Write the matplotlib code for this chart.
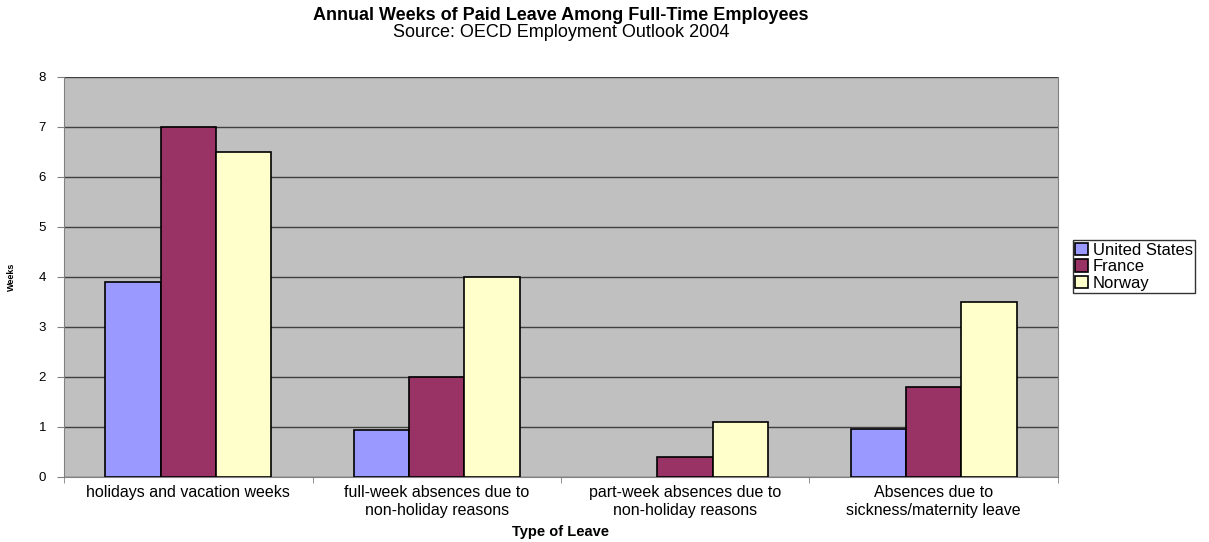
import matplotlib.pyplot as plt
import numpy as np

plt.rcParams['font.family'] = ['Liberation Sans', 'DejaVu Sans']

categorias = ['holidays and vacation weeks',
              'full-week absences due to\nnon-holiday reasons',
              'part-week absences due to\nnon-holiday reasons',
              'Absences due to\nsickness/maternity leave']
paises = ['United States', 'France', 'Norway']
semanas_usa = [3.9, 0.93, 0.0, 0.95]
semanas_francia = [7.0, 2.0, 0.4, 1.8]
semanas_noruega = [6.5, 4.0, 1.1, 3.5]
colores = ['#9999FF', '#993366', '#FFFFCC']

fig = plt.figure(figsize=(12.09, 5.42), dpi=100)
ax = fig.add_axes([0.053, 0.12, 0.822, 0.738])
ax.set_facecolor('#C0C0C0')

x = np.arange(len(categorias))
ancho = 0.223
series = [semanas_usa, semanas_francia, semanas_noruega]
for i, (valores, pais, color) in enumerate(zip(series, paises, colores)):
    # sin borde cuando la barra vale 0
    bordes = [1.2 if v > 0 else 0 for v in valores]
    ax.bar(x + (i - 1) * ancho, valores, ancho, color=color, edgecolor='black',
           linewidth=bordes, label=pais, zorder=3)

ax.set_xlim(-0.5, len(categorias) - 0.5)
ax.set_ylim(0, 8)
ax.set_yticks(range(0, 9))
ax.yaxis.grid(True, color='#404040', linewidth=1, zorder=1)

# ticks de categoria entre grupos
ax.set_xticks(x)
ax.set_xticklabels(categorias, fontsize=11.5, linespacing=1.2)
ax.set_xticks(np.arange(-0.5, len(categorias)), minor=True)
ax.tick_params(axis='x', which='major', length=0, pad=6)
ax.tick_params(axis='x', which='minor', length=4, color='#808080')
ax.tick_params(axis='y', labelsize=9.5, length=5, color='#808080', pad=8)

for lado in ['left', 'bottom', 'right']:
    ax.spines[lado].set_color('#808080')
ax.spines['top'].set_visible(False)

ax.set_xlabel('Type of Leave', fontsize=10.5, fontweight='bold', labelpad=5)
ax.set_ylabel('Weeks', fontsize=6.5, fontweight='bold', labelpad=16)

# titulo centrado sobre el area del grafico
centro = 0.053 + 0.822 / 2
fig.text(centro, 0.972, 'Annual Weeks of Paid Leave Among Full-Time Employees',
         ha='center', va='center', fontsize=13, fontweight='bold')
fig.text(centro, 0.94, 'Source: OECD Employment Outlook 2004',
         ha='center', va='center', fontsize=13)

leg = fig.legend(loc='upper left', bbox_to_anchor=(0.8875, 0.557), fontsize=12,
                 frameon=True, fancybox=False, edgecolor='black', handlelength=0.75,
                 handleheight=0.75, handletextpad=0.3, borderpad=0.15, labelspacing=0.1,
                 borderaxespad=0)
leg.get_frame().set_linewidth(1)

fig.savefig('out.png', dpi=100)
